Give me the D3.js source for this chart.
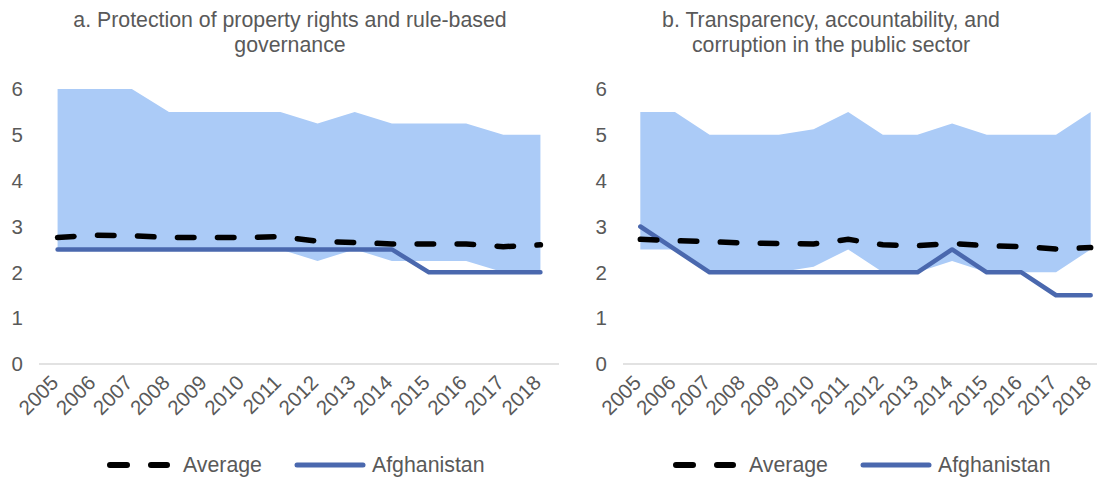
<!DOCTYPE html>
<html>
<head>
<meta charset="utf-8">
<script src="https://cdn.jsdelivr.net/npm/d3@7/dist/d3.min.js"></script>
<style>
  html, body { margin: 0; padding: 0; background: #fff; }
  svg { display: block; }
  text { font-family: "Liberation Sans", Arial, sans-serif; fill: #595959; }
</style>
</head>
<body>
<svg id="chart" width="1097" height="478"></svg>
<script>
const years = ["2005","2006","2007","2008","2009","2010","2011","2012","2013","2014","2015","2016","2017","2018"];
const yTicks = [0, 1, 2, 3, 4, 5, 6];

// Panel a
const titleA = ["a. Protection of property rights and rule-based", "governance"];
const rangeHighA = [6, 6, 6, 5.5, 5.5, 5.5, 5.5, 5.25, 5.5, 5.25, 5.25, 5.25, 5, 5];
const rangeLowA  = [2.5, 2.5, 2.5, 2.5, 2.5, 2.5, 2.5, 2.25, 2.5, 2.25, 2.25, 2.25, 2, 2];
const averageA   = [2.76, 2.81, 2.8, 2.76, 2.76, 2.76, 2.78, 2.68, 2.65, 2.62, 2.62, 2.62, 2.56, 2.6];
const afghanA    = [2.5, 2.5, 2.5, 2.5, 2.5, 2.5, 2.5, 2.5, 2.5, 2.5, 2, 2, 2, 2];

// Panel b
const titleB = ["b. Transparency, accountability, and", "corruption in the public sector"];
const rangeHighB = [5.5, 5.5, 5, 5, 5, 5.12, 5.5, 5, 5, 5.25, 5, 5, 5, 5.5];
const rangeLowB  = [2.5, 2.5, 2, 2, 2, 2.12, 2.5, 2, 2, 2.25, 2, 2, 2, 2.5];
const averageB   = [2.72, 2.69, 2.67, 2.64, 2.63, 2.62, 2.72, 2.6, 2.58, 2.63, 2.58, 2.56, 2.51, 2.54];
const afghanB    = [3, 2.5, 2, 2, 2, 2, 2, 2, 2, 2.5, 2, 2, 1.5, 1.5];

const legendLabels = ["Average", "Afghanistan"];

const COLORS = { band: "#abcbf7", afg: "#4a68ae", avg: "#000000", axis: "#d9d9d9" };
const FONT = 21.3;
const TICK_FONT = 20.5;

const svg = d3.select("#chart");

function drawPanel(cfg) {
  const g = svg.append("g");
  const x = d3.scaleBand().domain(years).range([cfg.x0, cfg.x1]);
  const cx = d => x(d) + x.bandwidth() / 2;
  const y = d3.scaleLinear().domain([0, 6]).range([364, 89]);

  const rows = years.map((yr, i) => ({
    yr, hi: cfg.hi[i], lo: cfg.lo[i], avg: cfg.avg[i], afg: cfg.afg[i]
  }));

  // band
  g.append("path")
    .datum(rows)
    .attr("fill", COLORS.band)
    .attr("d", d3.area().x(d => cx(d.yr)).y0(d => y(d.lo)).y1(d => y(d.hi)));

  // x axis line
  g.append("line")
    .attr("x1", cfg.x0).attr("x2", cfg.axisEnd)
    .attr("y1", y(0)).attr("y2", y(0))
    .attr("stroke", COLORS.axis).attr("stroke-width", 1.5);

  // y tick labels
  g.selectAll(".yt").data(yTicks).enter().append("text")
    .attr("x", cfg.yLabelX).attr("y", d => y(d))
    .attr("dy", "0.35em")
    .attr("text-anchor", "end")
    .attr("font-size", TICK_FONT)
    .text(d => d);

  // x tick labels
  g.selectAll(".xt").data(years).enter().append("text")
    .attr("transform", d => `translate(${cx(d) + 2},${384}) rotate(-45)`)
    .attr("text-anchor", "end")
    .attr("font-size", TICK_FONT)
    .text(d => d);

  // Afghanistan line
  g.append("path")
    .datum(rows)
    .attr("fill", "none")
    .attr("stroke", COLORS.afg)
    .attr("stroke-width", 4.5)
    .attr("stroke-linejoin", "round")
    .attr("stroke-linecap", "round")
    .attr("d", d3.line().x(d => cx(d.yr)).y(d => y(d.afg)));

  // Average line
  g.append("path")
    .datum(rows)
    .attr("fill", "none")
    .attr("stroke", COLORS.avg)
    .attr("stroke-width", 5.5)
    .attr("stroke-linecap", "round")
    .attr("stroke-dasharray", "16.5,23.5")
    .attr("d", d3.line().x(d => cx(d.yr)).y(d => y(d.avg)));

  // title
  const t = g.append("text")
    .attr("text-anchor", "middle")
    .attr("font-size", FONT);
  cfg.title.forEach((line, i) => {
    t.append("tspan").attr("x", cfg.titleX).attr("y", 27 + i * 25).text(line);
  });

  // legend
  const ly = 465;
  const lg = g.append("g");
  lg.append("line")
    .attr("x1", cfg.legX + 3).attr("x2", cfg.legX + 60)
    .attr("y1", ly).attr("y2", ly)
    .attr("stroke", COLORS.avg).attr("stroke-width", 6)
    .attr("stroke-linecap", "round")
    .attr("stroke-dasharray", "17,24");
  lg.append("text")
    .attr("x", cfg.legX + 76).attr("y", ly).attr("dy", "0.35em")
    .attr("font-size", FONT)
    .text(legendLabels[0]);
  lg.append("line")
    .attr("x1", cfg.legX + 190).attr("x2", cfg.legX + 256)
    .attr("y1", ly).attr("y2", ly)
    .attr("stroke", COLORS.afg).attr("stroke-width", 5)
    .attr("stroke-linecap", "round");
  lg.append("text")
    .attr("x", cfg.legX + 265).attr("y", ly).attr("dy", "0.35em")
    .attr("font-size", FONT)
    .text(legendLabels[1]);
}

drawPanel({ x0: 39, x1: 559, axisEnd: 559, yLabelX: 23, hi: rangeHighA, lo: rangeLowA, avg: averageA, afg: afghanA, title: titleA, titleX: 290, legX: 107 });
drawPanel({ x0: 623, x1: 1108, axisEnd: 1097, yLabelX: 607, hi: rangeHighB, lo: rangeLowB, avg: averageB, afg: afghanB, title: titleB, titleX: 831, legX: 673 });
</script>
</body>
</html>
